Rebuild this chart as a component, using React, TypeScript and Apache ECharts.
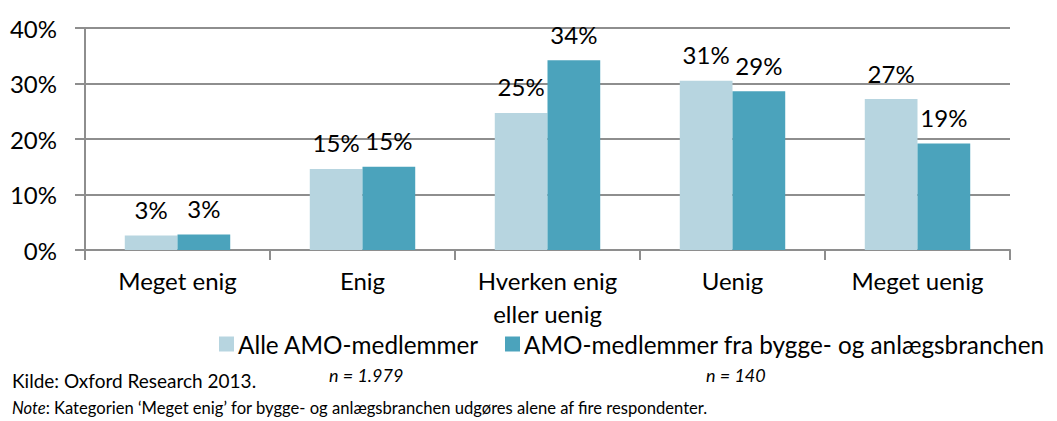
import React, { useEffect, useRef } from "react";
import * as echarts from "echarts";

const categories = ["Meget enig", "Enig", "Hverken enig\neller uenig", "Uenig", "Meget uenig"];
const seriesNames = ["Alle AMO-medlemmer", "AMO-medlemmer fra bygge- og anlægsbranchen"];
const alleValues = [0.026, 0.146, 0.247, 0.305, 0.272];
const byggeValues = [0.028, 0.15, 0.342, 0.286, 0.192];
const nLabels = ["n = 1.979", "n = 140"];
const sourceText = "Kilde: Oxford Research 2013.";
const noteLabel = "Note";
const noteText = ": Kategorien ‘Meget enig’ for bygge- og anlægsbranchen udgøres alene af fire respondenter.";

const FONT = "Lato, 'Open Sans', sans-serif";
const LIGHT = "#B7D5E0";
const DARK = "#4BA3BC";
const GRID = "#8E8E8E";

export default function App() {
  const ref = useRef<HTMLDivElement>(null);
  useEffect(() => {
    document.body.style.margin = "0";
    if (!ref.current) return;
    const chart = echarts.init(ref.current, null, { renderer: "svg" });
    const labelFmt = (p: any) => Math.round(p.value * 100) + "%";
    const lbl = { show: true, position: "top", distance: 13, formatter: labelFmt, color: "#000", fontSize: 24, fontFamily: FONT, lineHeight: 26 };
    chart.setOption({
      animation: false,
      textStyle: { fontFamily: FONT },
      grid: { left: 85, right: 47, top: 28, bottom: 171, containLabel: false },
      legend: {
        data: seriesNames,
        left: 219,
        top: 332,
        padding: 0,
        icon: "rect",
        itemWidth: 15,
        itemHeight: 15,
        itemGap: 26,
        textStyle: { fontFamily: FONT, fontSize: 24.3, lineHeight: 20, color: "#000", padding: [0, 0, 0, -1] },
      },
      xAxis: {
        type: "category",
        data: categories,
        axisLine: { lineStyle: { color: GRID, width: 2 } },
        axisTick: { show: true, length: 10, lineStyle: { color: GRID, width: 2 } },
        axisLabel: { color: "#000", fontSize: 24, fontFamily: FONT, margin: 14, lineHeight: 33, interval: 0 },
      },
      yAxis: {
        type: "value",
        min: 0,
        max: 0.4,
        interval: 0.1,
        axisLine: { show: true, lineStyle: { color: GRID, width: 2 } },
        axisTick: { show: true, length: 10, lineStyle: { color: GRID, width: 2 } },
        splitLine: { lineStyle: { color: GRID, width: 2 } },
        axisLabel: {
          color: "#000",
          fontSize: 24,
          fontFamily: FONT,
          margin: 28,
          formatter: (v: number) => Math.round(v * 100) + "%",
        },
      },
      series: [
        {
          name: seriesNames[0],
          type: "bar",
          data: alleValues,
          barGap: "0%",
          barCategoryGap: "43%",
          itemStyle: { color: LIGHT },
          label: lbl,
        },
        {
          name: seriesNames[1],
          type: "bar",
          data: byggeValues,
          itemStyle: { color: DARK },
          label: lbl,
        },
      ],
      graphic: [
        { type: "text", left: 329, top: 366, style: { text: nLabels[0], font: `italic 18px ${FONT}`, fill: "#000" } },
        { type: "text", left: 706, top: 366, style: { text: nLabels[1], font: `italic 18px ${FONT}`, fill: "#000" } },
        { type: "text", left: 12, top: 371, style: { text: sourceText, font: `19px ${FONT}`, fill: "#000" } },
        {
          type: "text",
          left: 12,
          top: 399,
          style: {
            text: "{i|" + noteLabel + "}" + noteText,
            font: `16.6px ${FONT}`,
            fill: "#000",
            rich: { i: { fontStyle: "italic", fontSize: 16.6, fontFamily: FONT } },
          },
        },
      ],
    });
    return () => chart.dispose();
  }, []);
  return <div ref={ref} style={{ width: 1057, height: 421 }} />;
}
